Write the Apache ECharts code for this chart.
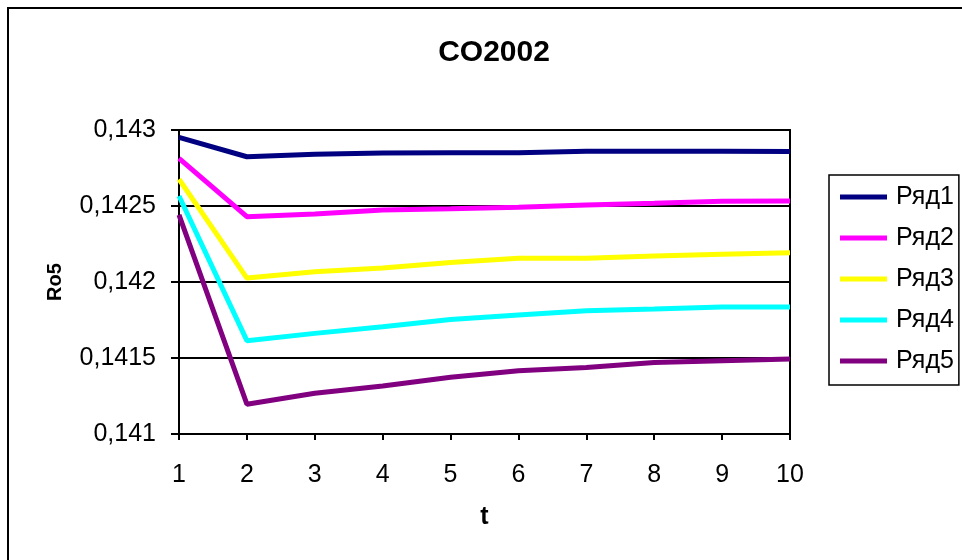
<!DOCTYPE html>
<html>
<head>
<meta charset="utf-8">
<script src="https://cdn.jsdelivr.net/npm/echarts@6/dist/echarts.min.js"></script>
<style>html,body{margin:0;padding:0;background:#fff;}#c{width:962px;height:560px;}</style>
</head>
<body>
<div id="c"></div>
<script>
const categories = ['1','2','3','4','5','6','7','8','9','10'];
const seriesNames = ['Ряд1','Ряд2','Ряд3','Ряд4','Ряд5'];
const ryad1 = [0.142952, 0.142824, 0.142840, 0.142849, 0.142850, 0.142850, 0.142860, 0.142860, 0.142860, 0.142858];
const ryad2 = [0.142814, 0.142430, 0.142447, 0.142474, 0.142482, 0.142491, 0.142507, 0.142518, 0.142531, 0.142533];
const ryad3 = [0.142676, 0.142026, 0.142068, 0.142092, 0.142128, 0.142156, 0.142156, 0.142171, 0.142182, 0.142193];
const ryad4 = [0.142566, 0.141614, 0.141662, 0.141706, 0.141754, 0.141783, 0.141811, 0.141822, 0.141836, 0.141836];
const ryad5 = [0.142441, 0.141196, 0.141268, 0.141316, 0.141373, 0.141416, 0.141438, 0.141471, 0.141482, 0.141493];
const colors = ['#000080','#FF00FF','#FFFF00','#00FFFF','#800080'];
const allData = [ryad1, ryad2, ryad3, ryad4, ryad5];

const chart = echarts.init(document.getElementById('c'));
const FONT = '"Liberation Sans", Arial, sans-serif';
chart.setOption({
  animation: false,
  backgroundColor: '#fff',
  textStyle: { fontFamily: FONT, color: '#000' },
  graphic: [{
    type: 'rect', shape: { x: 8, y: 8, width: 1000, height: 600 },
    style: { fill: 'none', stroke: '#000', lineWidth: 2 }, silent: true
  }],
  title: {
    text: 'CO2002', left: 489, top: 33, textAlign: 'center',
    textStyle: { fontFamily: FONT, fontSize: 30, fontWeight: 'bold', color: '#000' }
  },
  legend: {
    orient: 'vertical', left: 829, top: 175,
    padding: [9, 5, 11, 11],
    itemWidth: 47, itemHeight: 5, itemGap: 15,
    icon: 'rect',
    borderColor: '#000', borderWidth: 1.5,
    textStyle: { fontFamily: FONT, fontSize: 25, lineHeight: 26, color: '#000', padding: [0,0,0,4] },
    data: seriesNames
  },
  grid: {
    left: 179, top: 130, right: 172, bottom: 126,
    show: true, borderColor: '#000', borderWidth: 2, backgroundColor: '#fff'
  },
  xAxis: {
    type: 'category', data: categories, boundaryGap: false,
    name: 't', nameLocation: 'middle', nameGap: 71,
    nameTextStyle: { fontFamily: FONT, fontSize: 25, fontWeight: 'bold', color: '#000' },
    axisLine: { lineStyle: { color: '#000', width: 2 } },
    axisTick: { show: true, alignWithLabel: true, length: 6, lineStyle: { color: '#000', width: 2 } },
    axisLabel: { fontFamily: FONT, fontSize: 25, color: '#000', margin: 29 },
    splitLine: { show: false }
  },
  yAxis: {
    type: 'value', min: 0.141, max: 0.143, interval: 0.0005,
    name: 'Ro5', nameLocation: 'middle', nameGap: 114, nameRotate: 90,
    nameTextStyle: { fontFamily: FONT, fontSize: 20, fontWeight: 'bold', color: '#000' },
    axisLine: { show: true, lineStyle: { color: '#000', width: 2 } },
    axisTick: { show: true, length: 8, lineStyle: { color: '#000', width: 2 } },
    axisLabel: {
      fontFamily: FONT, fontSize: 25, color: '#000', margin: 23,
      formatter: v => String(+v.toFixed(4)).replace('.', ',')
    },
    splitLine: { show: true, lineStyle: { color: '#000', width: 2 } }
  },
  series: allData.map((d, i) => ({
    name: seriesNames[i], type: 'line', data: d,
    showSymbol: false, symbol: 'none',
    lineStyle: { color: colors[i], width: 5 },
    itemStyle: { color: colors[i] }
  }))
});
</script>
</body>
</html>
